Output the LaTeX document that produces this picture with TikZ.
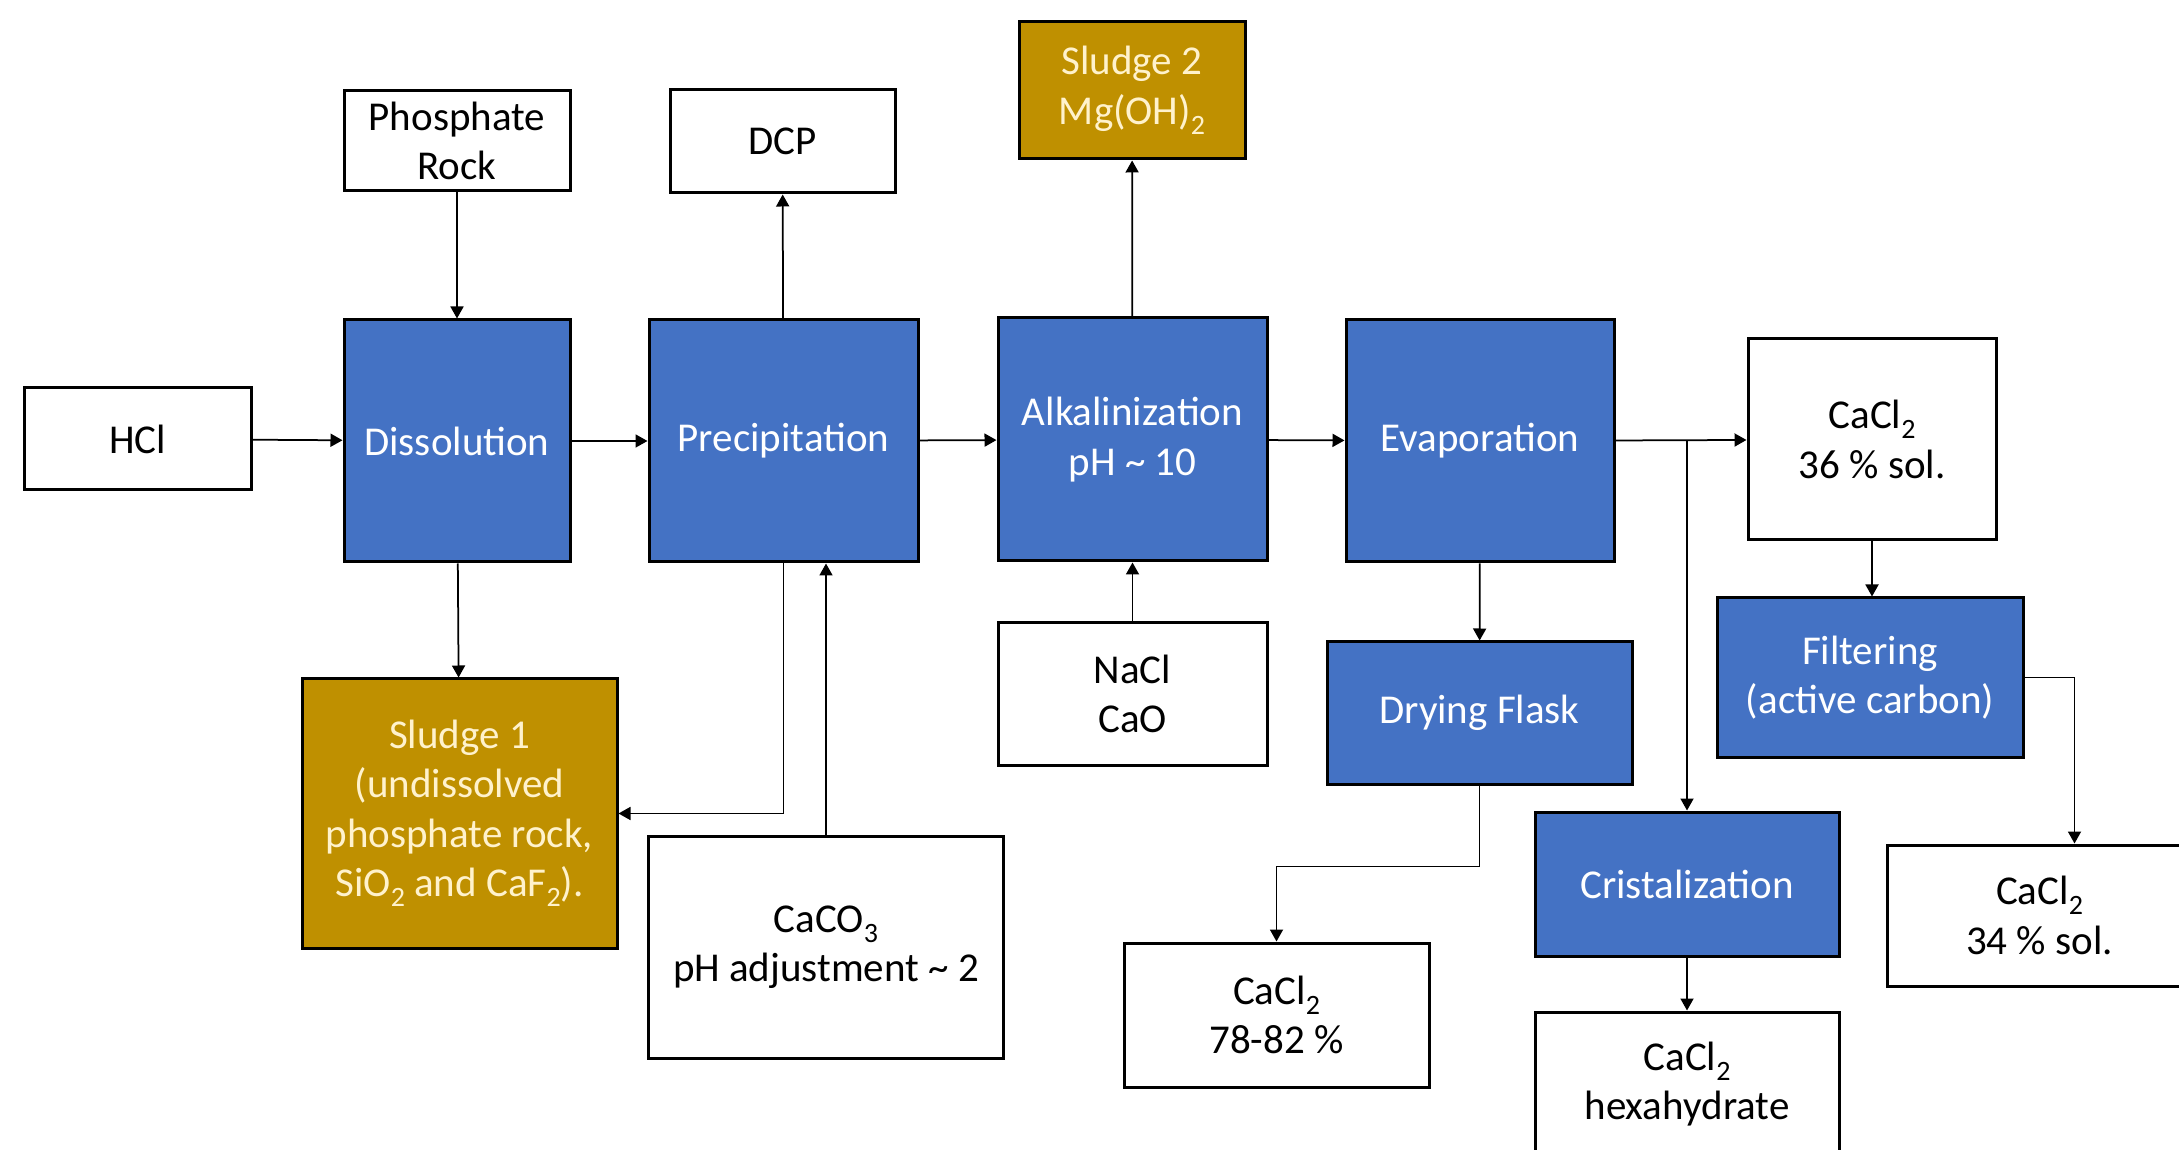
\documentclass[tikz,border=0pt]{standalone}
\usepackage{fontspec}
\setmainfont{Carlito}
\usetikzlibrary{arrows.meta}
\definecolor{procblue}{HTML}{4472C4}
\definecolor{sludgegold}{HTML}{BF9000}
\definecolor{sludgetext}{HTML}{FFF2CC}
\newcommand\chemsub[1]{\raisebox{-4pt}{\fontsize{11.2}{11.2}\selectfont #1}}
\begin{document}
\begin{tikzpicture}[x=0.4pt,y=-0.4pt,
  basebox/.style={draw=black, line width=1.2pt, inner sep=0pt, align=center, font=\fontsize{16.4}{19.8}\selectfont},
  whitebox/.style={basebox, fill=white, text=black},
  procbox/.style={basebox, fill=procblue, text=white},
  sludgebox/.style={basebox, fill=sludgegold, text=sludgetext},
  sz/.style 2 args={minimum width=#1*0.4pt, minimum height=#2*0.4pt},
  flow/.style={line width=0.7pt, -{Triangle[length=4.8pt,width=5.2pt]}},
]
\useasboundingbox[fill=white] (0,0) rectangle (2179,1150);

\node[whitebox, sz={227}{102}] (hcl) at (137.5,439) {HCl};
\node[whitebox, sz={226}{100}] (rock) at (457,141) {Phosphate\\Rock};
\node[procbox, sz={226}{242}] (diss) at (457,441) {Dissolution};
\node[whitebox, sz={225}{103}] (dcp) at (782.5,141.5) {DCP};
\node[procbox, sz={269}{242}] (prec) at (783.5,441) {Precipitation};
\node[sludgebox, sz={226}{137}] (sl2) at (1132,90.5) {Sludge 2\\Mg(OH)\chemsub{2}};
\node[procbox, sz={269}{243}] (alk) at (1132.5,439.5) {Alkalinization\\pH \textasciitilde{} 10};
\node[whitebox, sz={269}{142}] (nacl) at (1132.5,694) {NaCl\\CaO};
\node[procbox, sz={268}{242}] (evap) at (1480,441) {Evaporation};
\node[whitebox, sz={248}{201}] (c36) at (1872,439.5) {CaCl\chemsub{2}\\36 \% sol.};
\node[procbox, sz={306}{159}] (filt) at (1870,677.5) {Filtering\\(active carbon)};
\node[whitebox, sz={305}{141}] (c34) at (2039.5,915.5) {CaCl\chemsub{2}\\34 \% sol.};
\node[procbox, sz={305}{142}] (dry) at (1479.5,713) {Drying Flask};
\node[procbox, sz={304}{144}] (crist) at (1687,884) {Cristalization};
\node[whitebox, sz={304}{144}] (hexa) at (1687,1084) {CaCl\chemsub{2}\\hexahydrate};
\node[whitebox, sz={305}{144}] (c78) at (1276.5,1015) {CaCl\chemsub{2}\\78-82 \%};
\node[sludgebox, sz={315}{269}] (sl1) at (459.5,813.5) {Sludge 1\\(undissolved\\phosphate rock,\\SiO\chemsub{2} and CaF\chemsub{2}).};
\node[whitebox, sz={355}{222}] (caco3) at (826,947) {CaCO\chemsub{3}\\pH adjustment \textasciitilde{} 2};

\draw[flow] (hcl) -- (diss);
\draw[flow] (rock) -- (diss);
\draw[flow] (diss) -- (prec);
\draw[flow] (prec) -- (dcp);
\draw[flow] (prec) -- (alk);
\draw[flow] (alk) -- (sl2);
\draw[flow] (nacl) -- (alk);
\draw[flow] (alk) -- (evap);
\draw[flow] (evap) -- (c36);
\coordinate (split) at (crist.north |- evap.east);
\draw[flow] (split) -- (crist.north);
\draw[flow] (evap) -- (dry);
\draw[flow] (dry.south) -- ++(0,81) -| (c78.north);
\draw[flow] (diss) -- (sl1);
\draw[flow] (prec.south) |- (sl1.east);
\draw[flow] (caco3.north) -- (caco3.north |- prec.south);
\draw[flow] (c36.south) -- (c36.south |- filt.north);
\draw[flow] (crist) -- (hexa);
\draw[flow] (filt.east) -| ([xshift=14pt]c34.north);
\end{tikzpicture}
\end{document}
